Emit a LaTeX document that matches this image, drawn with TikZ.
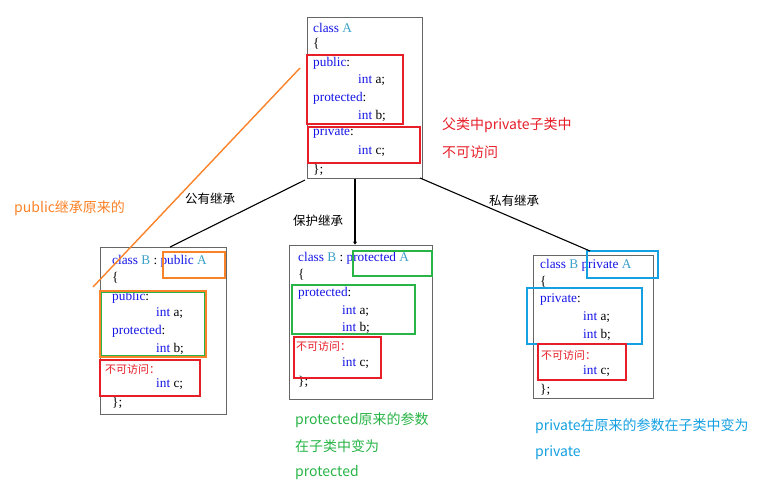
\documentclass[tikz,border=0pt]{standalone}
\usepackage{fontspec}
\setmainfont{Liberation Serif}
\newfontfamily\cjk{Noto Sans CJK SC}
\usetikzlibrary{arrows.meta}
\definecolor{kw}{RGB}{20,20,230}
\definecolor{tl}{RGB}{60,160,200}
\definecolor{rd}{RGB}{230,30,40}
\definecolor{org}{RGB}{250,130,40}
\definecolor{grn}{RGB}{40,180,70}
\definecolor{blu}{RGB}{20,160,225}
\tikzset{
 cls/.style={draw=gray!80!black,line width=0.8pt,inner sep=0pt},
 code/.style={anchor=west,inner sep=0pt,font=\fontsize{13.3}{15}\selectfont,text=kw},
 hl/.style={draw=#1,line width=2.3pt},
 lbl/.style={anchor=west,inner sep=0pt,font=\cjk\fontsize{12.5}{14}\selectfont},
 note/.style={anchor=west,inner sep=0pt,font=\cjk\fontsize{14}{16}\selectfont,text=#1},
 na/.style={anchor=west,inner sep=0pt,font=\cjk\fontsize{11}{13}\selectfont,text=rd},
 conn/.style={line width=1.1pt}
}
\begin{document}
\begin{tikzpicture}[x=1pt,y=-1pt]
\useasboundingbox (0,0) rectangle (783,488);
% boxes
\node[cls,minimum width=115,minimum height=161] (A) at (364.5,97.5) {};
\node[cls,minimum width=126,minimum height=167] (B1) at (163,330.5) {};
\node[cls,minimum width=143,minimum height=154] (B2) at (360.5,322) {};
\node[cls,minimum width=120,minimum height=143] (B3) at (593,326.5) {};
% class A
\node[code] at (313,28) {class \textcolor{tl}{A}};
\node[code,text=black] at (313,44) {\{};
\node[code] at (313,63) {public\textcolor{black}{:}};
\node[code] at (358,80) {int \textcolor{black}{a;}};
\node[code] at (313,98) {protected\textcolor{black}{:}};
\node[code] at (358,116) {int \textcolor{black}{b;}};
\node[code] at (313,133) {private\textcolor{black}{:}};
\node[code] at (358,151) {int \textcolor{black}{c;}};
\node[code,text=black] at (313,170) {\};};
\draw[hl=rd] (307,55) rectangle (403,124);
\draw[hl=rd] (308,127) rectangle (420,163);
\node[note=rd] (n1) at (442,125) {父类中private子类中};
\node[note=rd] (n2) at (442,152) {不可访问};
% B1
\node[code] at (112,261) {class \textcolor{tl}{B} \textcolor{black}{:} public \textcolor{tl}{A}};
\node[code,text=black] at (112,278) {\{};
\node[code] at (112,297) {public\textcolor{black}{:}};
\node[code] at (156,313) {int \textcolor{black}{a;}};
\node[code] at (112,331) {protected\textcolor{black}{:}};
\node[code] at (156,349) {int \textcolor{black}{b;}};
\node[na] at (105,369) {不可访问：};
\node[code] at (156,384) {int \textcolor{black}{c;}};
\node[code,text=black] at (112,403) {\};};
\draw[line width=1.2pt,grn] (101,292) rectangle (205,356);
\draw[hl=org] (163,252) rectangle (225,278);
\draw[hl=org] (100,291) rectangle (206,357);
\draw[hl=rd] (100,360) rectangle (200,396);
% B2
\node[code] at (298,258) {class \textcolor{tl}{B} \textcolor{black}{:} protected \textcolor{tl}{A}};
\node[code,text=black] at (298,275) {\{};
\node[code] at (298,293) {protected\textcolor{black}{:}};
\node[code] at (342,311) {int \textcolor{black}{a;}};
\node[code] at (342,328) {int \textcolor{black}{b;}};
\node[na] at (296,346) {不可访问：};
\node[code] at (342,363) {int \textcolor{black}{c;}};
\node[code,text=black] at (298,382) {\};};
\draw[hl=grn] (353,251) rectangle (432,276);
\draw[hl=grn] (292,285) rectangle (415,334);
\draw[hl=rd] (294,337) rectangle (381,378);
% B3
\node[code] at (540,265) {class \textcolor{tl}{B} private \textcolor{tl}{A}};
\node[code,text=black] at (540,282) {\{};
\node[code] at (540,300) {private\textcolor{black}{:}};
\node[code] at (583,317) {int \textcolor{black}{a;}};
\node[code] at (583,335) {int \textcolor{black}{b;}};
\node[na] at (541,355) {不可访问：};
\node[code] at (583,371) {int \textcolor{black}{c;}};
\node[code,text=black] at (540,390) {\};};
\draw[hl=blu] (587,251) rectangle (658,278);
\draw[hl=blu] (527,288) rectangle (642,344);
\draw[hl=rd] (538,344) rectangle (626,380);
% connectors
\coordinate (a1) at (305,180);
\coordinate (a2) at (355,179);
\coordinate (a3) at (420,178);
\draw[conn] (a1) -- (170,247);
\draw[conn,-{Stealth[length=3pt,width=4pt]}] (a2) -- (B2.north -| a2);
\draw[conn] (a3) -- (590,251);
\node[lbl] at (185,199) {公有继承};
\node[lbl] at (293,221) {保护继承};
\node[lbl] at (489,201) {私有继承};
% notes
\coordinate (o1) at (300,68);
\coordinate (o2) at (93,287);
\draw[org,line width=1.4pt] (o1) -- (o2);
\node[note=org] at (14,208) {public继承原来的};
\node[note=grn] at (295,420) {protected原来的参数};
\node[note=grn] at (295,446) {在子类中变为};
\node[note=grn] at (295,473) {protected};
\node[note=blu] at (535,426) {private在原来的参数在子类中变为};
\node[note=blu] at (535,453) {private};
\end{tikzpicture}
\end{document}
